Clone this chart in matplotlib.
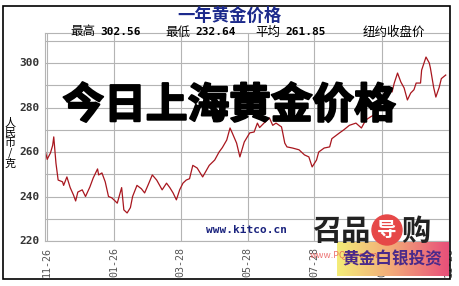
import numpy as np
import matplotlib
matplotlib.use('Agg')
import matplotlib.pyplot as plt
import matplotlib.patheffects as pe
from matplotlib.patches import Rectangle, Ellipse
from matplotlib.colors import LinearSegmentedColormap

plt.rcParams['font.family'] = ['Noto Sans CJK SC', 'DejaVu Sans']

# days counted from 11-26, price in 人民币/克
days = [-2, 0, 3, 5, 6, 8, 10, 14, 15, 18, 21, 24, 26, 28, 32, 35, 39, 42, 46, 47,
        50, 53, 56, 59, 62, 64, 68, 70, 73, 76, 78, 82, 86, 89, 92, 96, 100, 105, 109, 112,
        115, 118, 121, 124, 127, 130, 133, 137, 142, 148, 153, 157, 160, 164, 167, 169, 173, 176, 180, 185,
        189, 192, 194, 198, 203, 206, 209, 214, 215, 217, 219, 224, 230, 235, 239, 242, 246, 248, 253, 258,
        260, 267, 271, 276, 282, 287, 291, 296, 300, 305, 309, 312, 315, 317, 320, 323, 326, 329, 332, 335,
        337, 341, 342, 346, 349, 350, 353, 355, 358, 360, 364]
price = [261, 256.7, 259.6, 263, 266.8, 255, 247.4, 246.6, 245, 248.8, 244, 240.7, 238, 242, 243, 240, 244.3, 248.3, 252.4, 249.7,
         250.6, 246.6, 240, 239.4, 238, 237, 244, 234, 232.6, 235, 240, 245, 243.5, 241.6, 245, 249.7, 247.4, 243, 246, 244,
         241.6, 238.5, 243, 246, 247.4, 248, 254, 252.8, 248.8, 254, 256.4, 260, 262, 265.4, 270.8, 268.6, 264, 257.8, 264.5, 268.6,
         269, 273, 271, 273, 275.3, 272, 273, 271.3, 269, 264, 262.3, 261.8, 261, 258.7, 257.8, 253.3, 256.4, 260, 261.8, 262.3,
         266, 268.6, 270, 272, 273, 270.8, 274.4, 276, 277, 282, 288, 289, 287, 291, 295.5, 291.5, 288.8, 283.4, 286.5, 288,
         291, 291, 296.8, 302.7, 300, 297.8, 289, 284.7, 289, 293, 294.6]

tick_days = [0, 61, 122, 183, 244, 306, 367]
tick_labels = ['11-26', '01-26', '03-28', '05-28', '07-28', '09-28', '11-28']
y_ticks = [220, 240, 260, 280, 300]

W, H = 459, 286
fig = plt.figure(figsize=(W / 100, H / 100), dpi=100)
fig.patch.set_facecolor('white')

def fx(px):
    return px / W

def fy(py):
    return 1 - py / H

# outer frame
fig.add_artist(Rectangle((fx(3), fy(279)), fx(450) - fx(3), fy(6) - fy(279),
                         transform=fig.transFigure, fill=False, ec='black', lw=1.2))

ax = fig.add_axes([fx(45), fy(241), fx(449) - fx(45), fy(33) - fy(241)])
ax.plot(days, price, color='#a8161e', lw=0.9)
ax.set_xlim(-2, 366)
ax.set_ylim(220, 313.5)
ax.set_yticks(np.arange(220, 311, 10))
ax.set_yticklabels([])
ax.set_xticks(tick_days)
ax.set_xticklabels([])
ax.tick_params(length=0)
ax.grid(True, color='#b4b4b4', lw=0.8)
for s in ax.spines.values():
    s.set_color('#b4b4b4')
    s.set_linewidth(0.8)

for v in y_ticks:
    ax.text(-0.013, v, str(v), transform=ax.get_yaxis_transform(), ha='right', va='center',
            family='DejaVu Sans Mono', fontweight='bold', fontsize=8, color='#333333')
for d, lab in zip(tick_days, tick_labels):
    ax.text(d, 217.5, lab, ha='center', va='top', rotation=90, clip_on=False,
            family='DejaVu Sans Mono', fontsize=7.2, color='#555555')

ax.text(0.5, 0.03, 'www.kitco.cn', transform=ax.transAxes, ha='center', va='bottom',
        family='DejaVu Sans Mono', fontweight='bold', fontsize=8, color='#1a237e')

# titles
fig.text(fx(229), fy(16), '一年黄金价格', ha='center', va='center', fontsize=12.5,
         fontweight='bold', color='#1c2a8c')
for px, lab, val in [(70, '最高', '302.56'), (165, '最低', '232.64'), (255, '平均', '261.85')]:
    fig.text(fx(px), fy(32), lab, ha='left', va='center', fontsize=9, color='black')
    fig.text(fx(px + 30), fy(32), val, ha='left', va='center', fontsize=8,
             family='DejaVu Sans Mono', fontweight='bold', color='black')
fig.text(fx(363), fy(32), '纽约收盘价', ha='left', va='center', fontsize=9, color='black')

fig.text(fx(10), fy(143), '人\n民\n币\n/\n克', ha='center', va='center', fontsize=8,
         linespacing=1.0, color='black')

# overlay banner
fig.text(fx(229), fy(106), '今日上海黄金价格', ha='center', va='center', fontsize=30,
         fontweight='heavy', color='black',
         path_effects=[pe.withStroke(linewidth=1.5, foreground='black')])

# logo
gax = fig.add_axes([fx(337), fy(276), fx(449) - fx(337), fy(242) - fy(276)])
cmap = LinearSegmentedColormap.from_list('g', ['#f4ec78', '#f2a878', '#e8507a'])
gax.imshow(np.linspace(0, 1, 100).reshape(1, -1), aspect='auto', cmap=cmap)
gax.axis('off')
fig.text(fx(341), fy(231), '召品', ha='center', va='center', fontsize=21, fontweight='bold', color='#222222')
fig.add_artist(Ellipse((fx(387), fy(230)), 30 / W, 30 / H, transform=fig.transFigure,
                       color='#e64848', zorder=5))
fig.text(fx(387), fy(230), '导', ha='center', va='center', fontsize=14, fontweight='bold',
         color='white', zorder=6)
fig.text(fx(416), fy(231), '购', ha='center', va='center', fontsize=21, fontweight='bold', color='#222222')
fig.text(fx(310), fy(256), 'www.PQdg.com', ha='left', va='center', fontsize=6.5, color='#e85050', alpha=0.8)
fig.text(fx(392), fy(259), '黄金白银投资', ha='center', va='center', fontsize=12, fontweight='bold',
         color='#4a2a8a')

fig.savefig('out.png', dpi=100)
